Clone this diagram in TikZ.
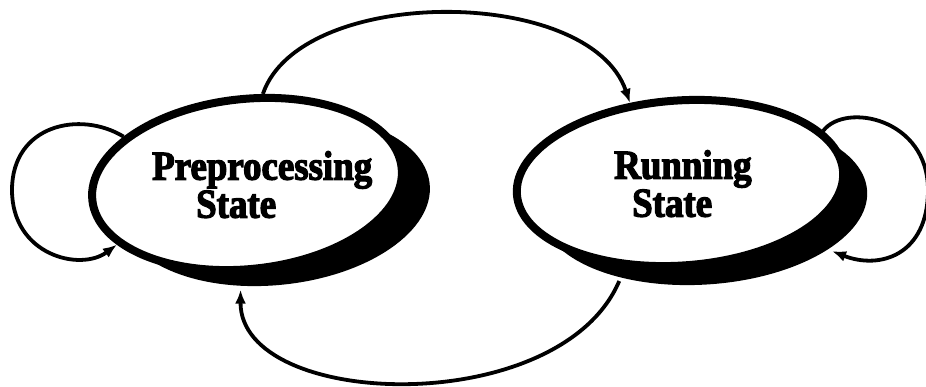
\documentclass[tikz,border=0pt]{standalone}
\usepackage{fontspec}
\setmainfont{Liberation Serif}
\newfontfamily\statefont{Liberation Serif Bold}[FakeStretch=0.9, FakeBold=3]
\usetikzlibrary{shapes.geometric,shadows,arrows.meta}

\begin{document}
\begin{tikzpicture}[x=1pt,y=-1pt,
  statebox/.style={ellipse, draw=black, line width=8pt, fill=white, inner sep=0pt},
  statetext/.style={font=\statefont\fontsize{41}{38}\selectfont, align=left,
    inner sep=0pt, anchor=north west},
  flow/.style={line width=3.8pt, -{Latex[length=14pt,width=11pt]}}]

\useasboundingbox (0,0) rectangle (926,387);

% the two states, each with a solid black shadow to the lower right
\node[statebox, minimum width=311pt, minimum height=170pt, rotate=6,
  drop shadow={shadow xshift=28pt, shadow yshift=-16pt, opacity=1, fill=black}]
  (pre) at (247,184) {};
\node[statebox, minimum width=327pt, minimum height=165pt, rotate=4,
  drop shadow={shadow xshift=24pt, shadow yshift=-19pt, opacity=1, fill=black}]
  (run) at (680,183) {};

\node[statetext] (pretext) at (152,151) {Preprocessing\\\hspace*{44pt}State};
\node[statetext] (runtext) at (614,150) {Running\\\hspace*{18pt}State};

% transitions between the states
\draw[flow] (pre.74) .. controls (300,-15) and (590,-15) .. (run.118);
\draw[flow] ([shift={(24,19)}]run.219) .. controls (560,420) and (240,410)
  .. ([shift={(28,16)}]pre.243);

% self loops
\draw[flow] (pre.153) .. controls (80,110) and (12,125) .. (12,190)
  .. controls (12,255) and (80,272) .. (pre.199);
\draw[flow] (run.16) .. controls (845,102) and (928,118) .. (928,190)
  .. controls (928,255) and (880,270) .. ([shift={(24,19)}]run.-25);
\end{tikzpicture}
\end{document}
